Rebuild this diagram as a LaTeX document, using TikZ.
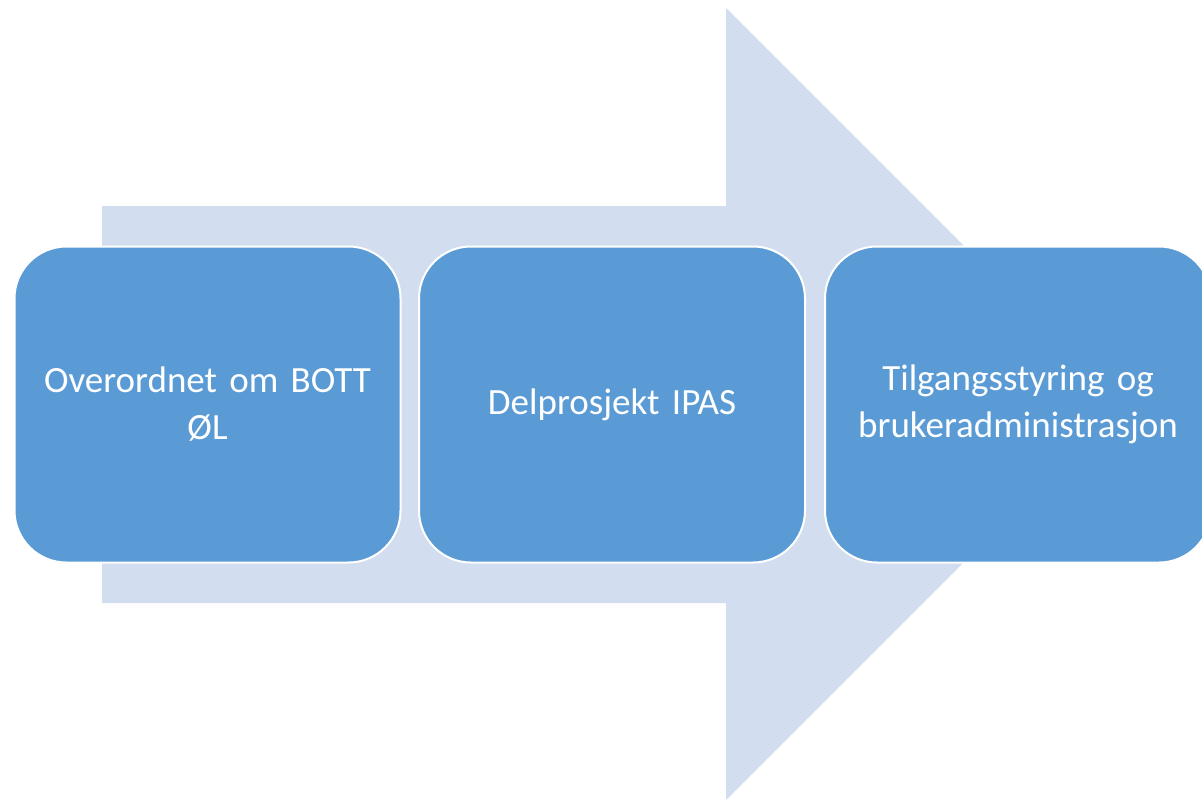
\documentclass[tikz,border=0pt]{standalone}
\usepackage{fontspec}
\setmainfont{Carlito}
\definecolor{boxblue}{HTML}{5B9BD5}
\definecolor{arrowblue}{HTML}{D2DEEF}
\begin{document}
\begin{tikzpicture}[x=1pt,y=-1pt,
  stagebox/.style={draw=white, line width=2pt, fill=boxblue, rounded corners=52pt,
    minimum width=386pt, minimum height=316pt, inner sep=0pt, text=white,
    align=center, font=\fontsize{37}{47}\selectfont, text width=360pt}]
\useasboundingbox (0,0) rectangle (1202,801);
\clip (0,0) rectangle (1202,801);
\fill[arrowblue] (102,206) -- (726,206) -- (726,8) -- (1122,404) -- (726,800) -- (726,603) -- (102,603) -- cycle;
\node[stagebox] (a) at (207.5,404.5) {Overordnet om BOTT\\ØL};
\node[stagebox] (b) at (612,404.5) {Delprosjekt IPAS};
\node[stagebox] (c) at (1018,404.5) {Tilgangsstyring og\\brukeradministrasjon};
\end{tikzpicture}
\end{document}
